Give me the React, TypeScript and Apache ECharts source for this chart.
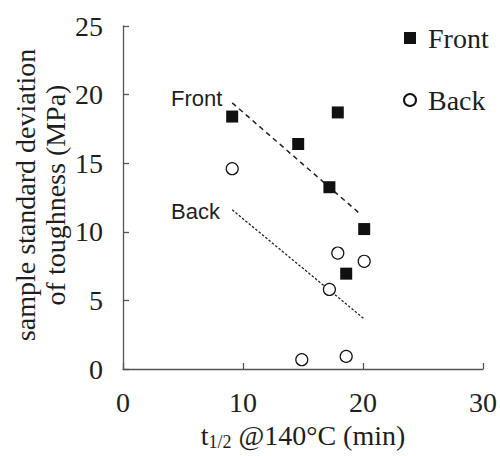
import React, { useEffect, useRef } from "react";
import * as echarts from "echarts";

const frontData: [number, number][] = [
  [9.1, 18.4],
  [14.6, 16.4],
  [17.9, 18.7],
  [17.2, 13.25],
  [20.1, 10.2],
  [18.6, 6.95],
];
const backData: [number, number][] = [
  [9.1, 14.6],
  [17.9, 8.45],
  [20.1, 7.85],
  [17.2, 5.8],
  [14.9, 0.68],
  [18.6, 0.92],
];
const frontTrend: [number, number][] = [
  [9.1, 19.4],
  [19.7, 11.35],
];
const backTrend: [number, number][] = [
  [9.1, 11.6],
  [20.1, 3.65],
];
const xTicks = { min: 0, max: 30, interval: 10 };
const yTicks = { min: 0, max: 25, interval: 5 };

const SERIF = "'Liberation Serif', 'Times New Roman', serif";
const SANS = "'Liberation Sans', Arial, sans-serif";
const TXT = "#1e1e1e";

export default function App() {
  const ref = useRef<HTMLDivElement>(null);
  useEffect(() => {
    if (!ref.current) return;
    const chart = echarts.init(ref.current, undefined, { renderer: "svg" });
    chart.setOption({
      animation: false,
      backgroundColor: "#fff",
      grid: { left: 123, right: 17, top: 26, bottom: 83 },
      legend: {
        data: ["Front", "Back"],
        orient: "vertical",
        left: 398,
        top: 19,
        itemWidth: 12,
        itemHeight: 12,
        itemGap: 34,
        textStyle: {
          fontFamily: SERIF,
          fontSize: 28,
          color: TXT,
          padding: [0, 0, 0, 7],
        },
      },
      xAxis: {
        type: "value",
        min: xTicks.min,
        max: xTicks.max,
        interval: xTicks.interval,
        splitLine: { show: false },
        axisLine: { lineStyle: { color: "#555", width: 1.3 } },
        axisTick: { inside: true, length: 6, lineStyle: { color: "#555", width: 1.3 } },
        axisLabel: { fontFamily: SERIF, fontSize: 28, color: TXT, margin: 19 },
        name: "t{sub|1/2} @140°C (min)",
        nameLocation: "middle",
        nameGap: 50,
        nameTextStyle: {
          fontFamily: SERIF,
          fontSize: 28,
          color: TXT,
          rich: {
            sub: { fontFamily: SERIF, fontSize: 18, color: TXT, verticalAlign: "bottom", padding: [14, 0, 0, 0] },
          },
        },
      },
      yAxis: {
        type: "value",
        min: yTicks.min,
        max: yTicks.max,
        interval: yTicks.interval,
        splitLine: { show: false },
        axisLine: { lineStyle: { color: "#555", width: 1.3 } },
        axisTick: { inside: true, length: 6, lineStyle: { color: "#555", width: 1.3 } },
        axisLabel: { fontFamily: SERIF, fontSize: 28, color: TXT, margin: 20 },
      },
      graphic: [
        {
          type: "text",
          x: 40,
          y: 195,
          rotation: Math.PI / 2,
          style: {
            text: "sample standard deviation\nof toughness (MPa)",
            fontFamily: SERIF,
            fontSize: 28,
            lineHeight: 30,
            fill: TXT,
            align: "center",
            verticalAlign: "middle",
          },
        },
        {
          type: "text",
          x: 171,
          y: 98,
          style: { text: "Front", fontFamily: SANS, fontSize: 22, fill: TXT, verticalAlign: "middle" },
        },
        {
          type: "text",
          x: 171,
          y: 211,
          style: { text: "Back", fontFamily: SANS, fontSize: 22, fill: TXT, verticalAlign: "middle" },
        },
      ],
      series: [
        {
          name: "Front",
          type: "scatter",
          symbol: "rect",
          symbolSize: 12,
          itemStyle: { color: "#111", opacity: 1 },
          data: frontData,
          z: 3,
        },
        {
          name: "Back",
          type: "scatter",
          symbol: "circle",
          symbolSize: 12,
          itemStyle: { color: "#fff", borderColor: "#111", borderWidth: 1.2, opacity: 1 },
          data: backData,
          z: 3,
        },
        {
          name: "frontTrend",
          type: "line",
          data: frontTrend,
          showSymbol: false,
          symbol: "none",
          lineStyle: { color: "#222", width: 1.5, type: [5, 4] },
          z: 2,
        },
        {
          name: "backTrend",
          type: "line",
          data: backTrend,
          showSymbol: false,
          symbol: "none",
          lineStyle: { color: "#222", width: 1.3, type: [2.5, 1.8] },
          z: 2,
        },
      ],
    });
    return () => chart.dispose();
  }, []);
  return <div ref={ref} style={{ width: 500, height: 456, position: "absolute", left: 0, top: 0 }} />;
}
